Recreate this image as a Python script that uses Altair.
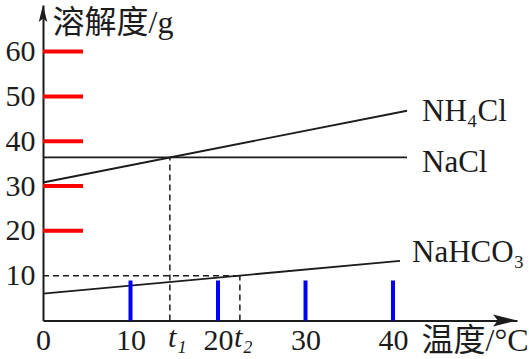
import altair as alt
import pandas as pd

# ---------------- data ----------------
series_names = ["NH₄Cl", "NaCl", "NaHCO₃"]
nh4cl_t = [0, 41.6]
nh4cl_s = [30.8, 46.8]
nacl_t = [0, 41.6]
nacl_s = [36.4, 36.4]
nahco3_t = [0, 40.8]
nahco3_s = [6.0, 13.3]

t1_value = 14.5      # NH4Cl and NaCl cross here
t1_solubility = 36.4
t2_value = 22.5      # NaHCO3 reaches 10 g here
t2_solubility = 10

x_tick_values = [0, 10, 20, 30, 40]
y_tick_values = [10, 20, 30, 40, 50, 60]
y_tick_marks = [20.0, 30.0, 40.0, 50.0, 60.0]
x_tick_marks = [10.0, 20.0, 30.0, 40.0]

X_MAX = 54.17
Y_MAX = 70.4

# ---------------- styling ----------------
FONT = "Liberation Serif, Noto Sans CJK SC, serif"
INK = "#1c1c1c"
W, H = 474, 315.5
FS = 30

x_scale = alt.Scale(domain=[0, X_MAX], nice=False, zero=False)
y_scale = alt.Scale(domain=[0, Y_MAX], nice=False, zero=False)

x_axis = alt.Axis(
    values=x_tick_values, ticks=False, grid=False,
    domainColor=INK, domainWidth=2,
    labelFont=FONT, labelFontSize=FS, labelColor=INK, labelPadding=5,
    labelFlush=False, labelOverlap=False,
    title="温度/°C", titleFont=FONT, titleFontSize=32, titleFontWeight="normal",
    titleColor=INK, titleX=378, titleY=20, titleAlign="left", titleBaseline="middle",
)
y_axis = alt.Axis(
    values=y_tick_values, ticks=False, grid=False,
    domainColor=INK, domainWidth=2,
    labelFont=FONT, labelFontSize=FS, labelColor=INK, labelPadding=8,
    labelFlush=False, labelOverlap=False,
    title="溶解度/g", titleFont=FONT, titleFontSize=32, titleFontWeight="normal",
    titleColor=INK, titleAngle=0, titleX=9, titleY=17, titleAlign="left",
    titleBaseline="middle",
)


def X(field):
    return alt.X(field, type="quantitative", scale=x_scale, axis=x_axis)


def Y(field):
    return alt.Y(field, type="quantitative", scale=y_scale, axis=y_axis)


rows = []
for name, ts, ss in zip(series_names, [nh4cl_t, nacl_t, nahco3_t], [nh4cl_s, nacl_s, nahco3_s]):
    for t, s in zip(ts, ss):
        rows.append({"series": name, "t": t, "s": s})
lines_df = pd.DataFrame(rows)

lines = alt.Chart(lines_df).mark_line(color=INK, strokeWidth=1.9).encode(
    x=X("t"), y=Y("s"), detail="series:N"
)

# dashed guides
guides_df = pd.DataFrame({
    "t": [t1_value, t2_value, 0],
    "t_end": [t1_value, t2_value, t2_value],
    "s": [0, 0, t2_solubility],
    "s_end": [t1_solubility, t2_solubility, t2_solubility],
})
guides = alt.Chart(guides_df).mark_rule(color=INK, strokeWidth=1.5, strokeDash=[6, 4]).encode(
    x=X("t"), x2="t_end:Q", y=Y("s"), y2="s_end:Q"
)

# inward tick marks (debug colour)
ytick = alt.Chart(pd.DataFrame({"s": y_tick_marks})).mark_rule(
    color="red", strokeWidth=4
).encode(y=Y("s"), x=alt.value(0), x2=alt.value(40))
xtick = alt.Chart(pd.DataFrame({"t": x_tick_marks})).mark_rule(
    color="blue", strokeWidth=4
).encode(x=X("t"), y=alt.value(H), y2=alt.value(H - 40))

# arrow heads
arrow_up = alt.Chart(pd.DataFrame({"t": [0], "s": [Y_MAX]})).mark_point(
    shape="M0,0L0.25,1L0,0.8L-0.25,1Z", size=1156, filled=True, color=INK,
    opacity=1, strokeWidth=0
).encode(x=X("t"), y=Y("s"))
arrow_right = alt.Chart(pd.DataFrame({"t": [X_MAX], "s": [0]})).mark_point(
    shape="M0,0L-1,0.25L-0.8,0L-1,-0.25Z", size=2304, filled=True, color=INK,
    opacity=1, strokeWidth=0
).encode(x=X("t"), y=Y("s"))

# series labels at the line ends
label_style = [(15, 1), (15, 6), (12, -8)]
label_layers = []
for name, ts, ss, (dx, dy) in zip(series_names, [nh4cl_t, nacl_t, nahco3_t],
                                  [nh4cl_s, nacl_s, nahco3_s], label_style):
    df = pd.DataFrame({"t": [ts[-1]], "s": [ss[-1]], "label": [name]})
    label_layers.append(
        alt.Chart(df).mark_text(font=FONT, fontSize=31, color=INK, align="left",
                                baseline="middle", dx=dx, dy=dy)
        .encode(x=X("t"), y=Y("s"), text="label:N")
    )

# t1 / t2 labels under the axis
t1_lab = alt.Chart(pd.DataFrame({"t": [t1_value], "label": ["t₁"]})).mark_text(
    font=FONT, fontSize=FS, fontStyle="italic", color=INK, align="left",
    baseline="middle", dx=-2
).encode(x=X("t"), y=alt.value(H + 17), text="label:N")
t2_lab = alt.Chart(pd.DataFrame({"t": [t2_value], "label": ["t₂"]})).mark_text(
    font=FONT, fontSize=FS, fontStyle="italic", color=INK, align="left",
    baseline="middle", dx=-6
).encode(x=X("t"), y=alt.value(H + 17), text="label:N")

chart = alt.layer(
    guides, lines, ytick, xtick, arrow_up, arrow_right, *label_layers, t1_lab, t2_lab
).properties(
    width=W, height=H,
    autosize=alt.AutoSizeParams(type="none"),
    padding={"left": 43, "top": 5, "right": 12, "bottom": 38.5},
    background="white",
).configure_view(stroke=None)

chart.save("out.html", embed_options={"renderer": "svg", "actions": False})
